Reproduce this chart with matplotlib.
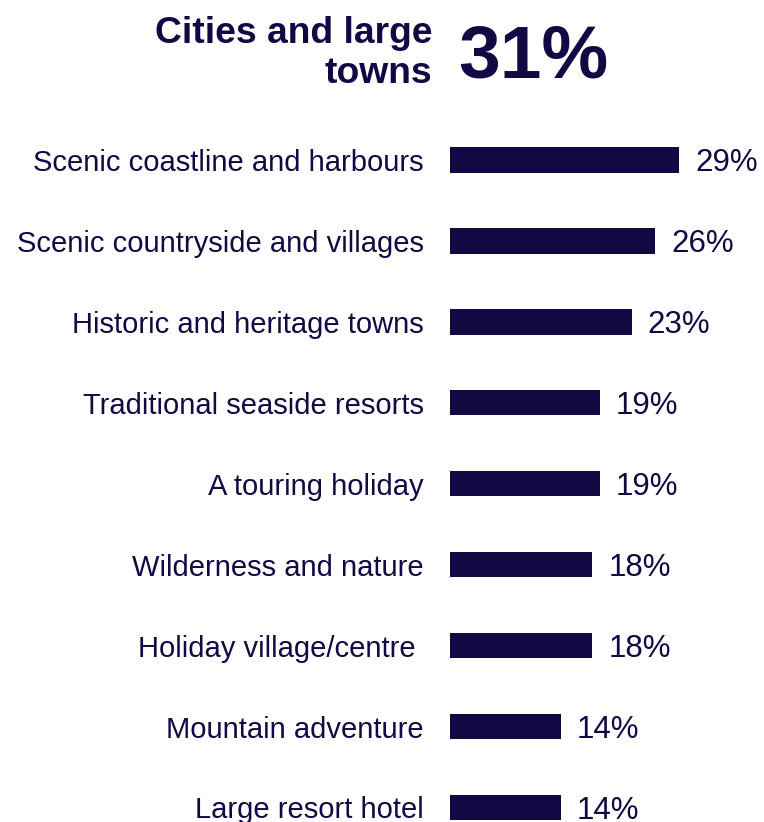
import matplotlib.pyplot as plt

plt.rcParams['font.family'] = ['Liberation Sans', 'DejaVu Sans']

# destination types and share of respondents (%)
categories = [
    "Scenic coastline and harbours",
    "Scenic countryside and villages",
    "Historic and heritage towns",
    "Traditional seaside resorts",
    "A touring holiday",
    "Wilderness and nature",
    "Holiday village/centre ",
    "Mountain adventure",
    "Large resort hotel",
]
values = [29, 26, 23, 19, 19, 18, 18, 14, 14]
headline_label = "Cities and large\ntowns"
headline_value = 31

navy = "#130844"
W, H = 764, 822

fig = plt.figure(figsize=(W / 100, H / 100), dpi=100)

# axes placed in pixel terms: 0% sits at x=450, 7.9 px per percent
ax = fig.add_axes([450 / W, 0, 316 / W, (H - 120) / H])
pos = list(range(len(categories)))
ax.barh(pos, values, height=0.314, color=navy)
ax.set_xlim(0, 40)
ax.set_ylim(8.18, -0.494)

ax.set_yticks(pos)
ax.set_yticklabels(categories, fontsize=21, color=navy)
ax.tick_params(axis='y', length=0, pad=19)
ax.set_xticks([])
for s in ax.spines.values():
    s.set_visible(False)

for p, v in zip(pos, values):
    ax.annotate(f"{v}%", (v, p), xytext=(11.5, 0), textcoords='offset points',
                va='center_baseline', ha='left', fontsize=22.5, color=navy)

# headline figure above the bars
fig.text(432 / W, 1 - 83 / H, headline_label, ha='right', va='baseline',
         fontsize=26.8, fontweight='bold', color=navy, linespacing=1.19,
         multialignment='right')
fig.text(458 / W, 1 - 78 / H, f"{headline_value}%", ha='left', va='baseline',
         fontsize=54, fontweight='bold', color=navy)

fig.savefig("out.png", dpi=100)
